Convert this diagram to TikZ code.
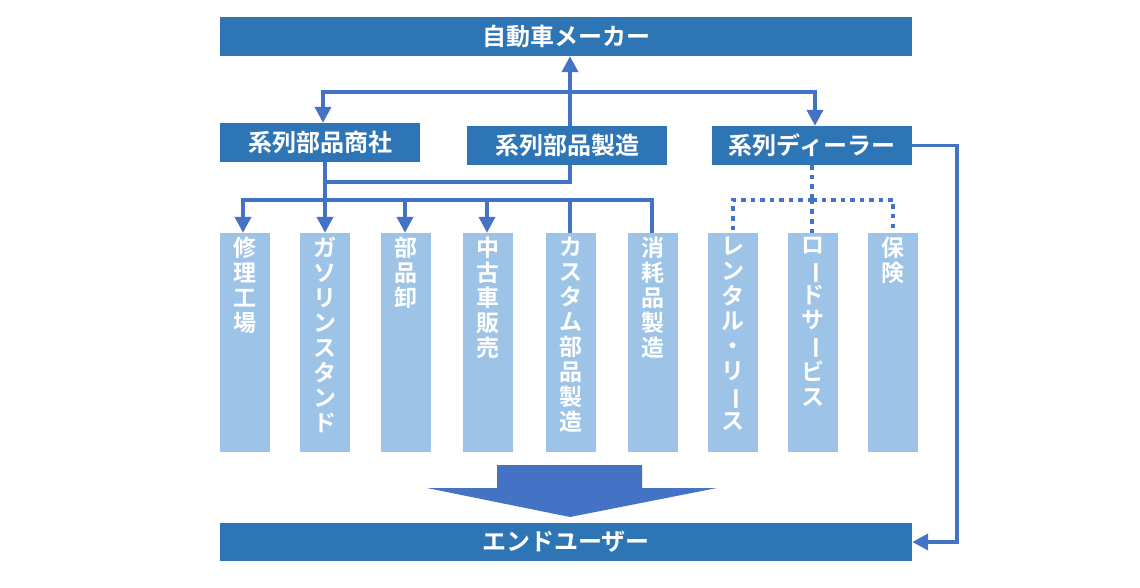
\documentclass[tikz,border=0pt]{standalone}
\usepackage{fontspec}
\usepackage{graphicx}
\usetikzlibrary{arrows.meta}
\newfontfamily\jp{Noto Sans CJK JP}[UprightFont=* Medium, BoldFont=* Bold]
\definecolor{darkbox}{HTML}{2E75B6}
\definecolor{lightbar}{HTML}{9DC3E6}
\definecolor{conncol}{HTML}{4472C4}
\newcommand{\vbar}{\rotatebox[origin=c]{-90}{ー}}
\tikzset{
  hdr/.style={draw=none,fill=darkbox,text=white,inner sep=0pt,minimum height=39pt,font=\jp\bfseries\fontsize{24}{26}\selectfont},
  barbox/.style={draw=none,fill=lightbar,text=white,minimum width=50pt,minimum height=219pt,inner sep=0pt},
  bartext/.style={text=white,align=center,anchor=north,inner sep=0pt,font=\jp\bfseries\fontsize{23}{25}\selectfont},
  conn/.style={draw=conncol,line width=3.8pt},
  arr/.style={conn,-{Triangle[width=16pt,length=16pt]}},
  dotline/.style={draw=conncol,line width=4pt,dash pattern=on 4.5pt off 5pt},
}
\begin{document}
\begin{tikzpicture}[x=1pt,y=-1pt]
\useasboundingbox (0,0) rectangle (1140,588);
% header boxes
\node[hdr,minimum width=692pt] (maker) at (566,36.5) {自動車メーカー};
\node[hdr,minimum width=200pt] (shosha) at (320,142.5) {系列部品商社};
\node[hdr,minimum width=200pt] (seizo) at (567,145.5) {系列部品製造};
\node[hdr,minimum width=200pt] (dealer) at (812,145.5) {系列ディーラー};
\node[hdr,minimum width=692pt,minimum height=38pt] (enduser) at (566,542) {エンドユーザー};
% bars
\foreach \i/\x in {1/245,2/325,3/406,4/488,5/571,6/653,7/733,8/813,9/893}{
  \node[barbox] (b\i) at (\x,342.5) {};
}
\node[bartext] (t1) at ([yshift=-4pt]b1.north) {修\\理\\工\\場};
\node[bartext] (t2) at ([yshift=-4pt]b2.north) {ガ\\ソ\\リ\\ン\\ス\\タ\\ン\\ド};
\node[bartext] (t3) at ([yshift=-4pt]b3.north) {部\\品\\卸};
\node[bartext] (t4) at ([yshift=-4pt]b4.north) {中\\古\\車\\販\\売};
\node[bartext] (t5) at ([yshift=-4pt]b5.north) {カ\\ス\\タ\\ム\\部\\品\\製\\造};
\node[bartext] (t6) at ([yshift=-4pt]b6.north) {消\\耗\\品\\製\\造};
\node[bartext] (t7) at ([yshift=-4pt]b7.north) {レ\\ン\\タ\\ル\\・\\リ\\\vbar\\ス};
\node[bartext] (t8) at ([yshift=-4pt]b8.north) {ロ\\\vbar\\ド\\サ\\\vbar\\ビ\\ス};
\node[bartext] (t9) at ([yshift=-4pt]b9.north) {保\\険};
% coordinates
\coordinate (hub) at (570,92);
\coordinate (bus) at (325,200);
\coordinate (join) at (325,182);
\coordinate (dbus) at (812,200);
\coordinate (rc) at (957,300);
% connectors
\draw[arr] (seizo.north -| hub) -- (maker.south -| hub);
\draw[arr] (hub) -| ([xshift=3pt]shosha.north);
\draw[arr] (hub) -| ([xshift=3pt]dealer.north);
\draw[conn] (shosha.south -| bus) -- (bus);
\draw[conn] (seizo.south -| hub) |- (join);
\draw[arr] (bus) -| ([xshift=-2pt]b1.north);
\draw[arr] (bus) -- (b2.north);
\draw[arr] (bus) -| ([xshift=-1pt]b3.north);
\draw[arr] (bus) -| ([xshift=-1pt]b4.north);
\draw[conn] (bus) -| ([xshift=-1pt]b5.north);
\draw[conn] ([xshift=-2pt]bus) -| ([xshift=-1pt]b6.north);
\draw[dotline] (dealer.south) -- (dbus);
\draw[dotline] (dbus) -| (b7.north);
\draw[dotline] (dbus) -- (b8.north -| dbus);
\draw[dotline] (dbus) -| (b9.north);
\draw[arr] (dealer.east) -| (rc) |- (enduser.east);
% block arrow
\fill[conncol] (497,465) -- (642,465) -- (642,488) -- (717,488) -- (570,517) -- (427,488) -- (497,488) -- cycle;
\end{tikzpicture}
\end{document}
